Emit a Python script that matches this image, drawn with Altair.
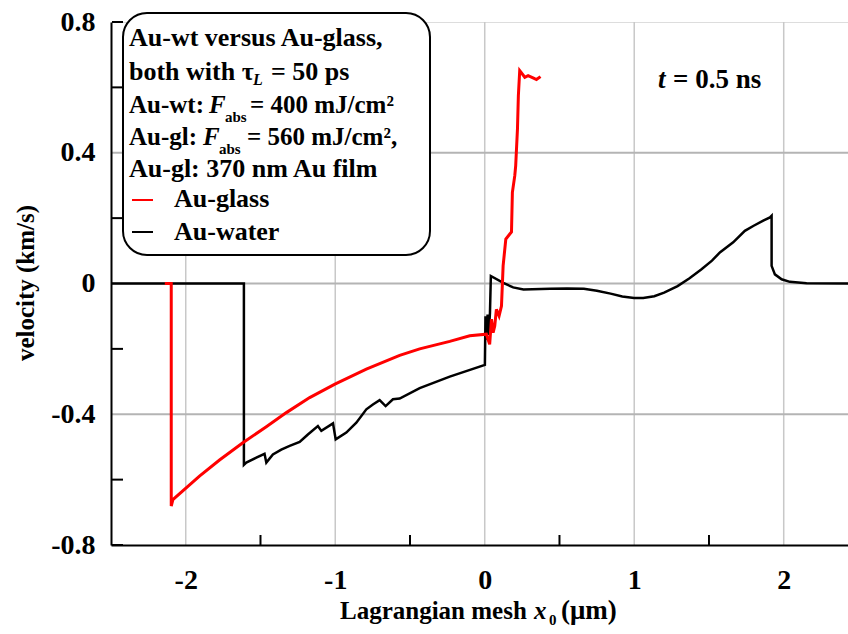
import altair as alt
import pandas as pd

# Velocity profiles at t = 0.5 ns versus Lagrangian coordinate x0 (um)
glass_x = [-2.14, -2.097, -2.097, -2.086, -1.908, -1.774, -1.618, -1.461, -1.327,
           -1.171, -1.002, -0.792, -0.569, -0.435, -0.234, -0.10, 0.011, 0.033,
           0.045, 0.056, 0.067, 0.078, 0.096, 0.112, 0.123, 0.141, 0.179, 0.185,
           0.201, 0.207, 0.219, 0.225, 0.234, 0.268, 0.290, 0.323, 0.346, 0.373]
glass_v = [0.0, 0.0, -0.681, -0.661, -0.589, -0.540, -0.487, -0.438, -0.395,
           -0.349, -0.308, -0.262, -0.220, -0.200, -0.177, -0.160, -0.155, -0.186,
           -0.109, -0.150, -0.130, -0.079, -0.099, -0.069, 0.054, 0.136, 0.158, 0.279,
           0.330, 0.360, 0.473, 0.575, 0.651, 0.631, 0.636, 0.629, 0.624, 0.633]

water_x = [-2.5, -1.611, -1.611, -1.595, -1.528, -1.473, -1.461, -1.417, -1.361,
           -1.305, -1.238, -1.183, -1.116, -1.093, -1.015, -0.997, -0.926, -0.859,
           -0.792, -0.748, -0.703, -0.663, -0.614, -0.569, -0.435, -0.234, 0.001,
           0.005, 0.013, 0.019, 0.026, 0.035, 0.041, 0.124, 0.19, 0.259, 0.438, 0.55,
           0.663, 0.75, 0.842, 0.92, 0.999, 1.06, 1.134, 1.20, 1.290, 1.37, 1.448,
           1.52, 1.573, 1.662, 1.740, 1.796, 1.863, 1.908, 1.919, 1.919, 1.919,
           1.941, 1.986, 2.041, 2.153, 2.5]
water_v = [0.0, 0.0, -0.555, -0.548, -0.533, -0.521, -0.548, -0.523, -0.508,
           -0.497, -0.485, -0.462, -0.436, -0.451, -0.428, -0.477, -0.456, -0.426,
           -0.385, -0.370, -0.357, -0.375, -0.354, -0.352, -0.320, -0.285, -0.249,
           -0.100, -0.172, -0.095, -0.157, -0.090, 0.023, 0.002, -0.012, -0.018,
           -0.016, -0.015, -0.016, -0.022, -0.031, -0.040, -0.044, -0.044, -0.039,
           -0.028, -0.008, 0.016, 0.043, 0.070, 0.095, 0.126, 0.161, 0.176, 0.192,
           0.202, 0.207, 0.176, 0.054, 0.028, 0.013, 0.005, 0.001, 0.0]

x_ticks = [-2, -1, 0, 1, 2]
x_minor = [-1.5, -0.5, 0.5, 1.5]
y_ticks = [-0.8, -0.4, 0, 0.4, 0.8]
y_minor = [-0.6, -0.2, 0.2, 0.6, 0.8, -0.8]
x_grid = [-2, -1, 0, 1, 2]
y_grid = [-0.4, 0, 0.4]
x_range = [-2.5, 2.43]
y_range = [-0.8, 0.8]

W, H = 737, 523          # plot area
PX, PY = 111, 22         # plot origin inside the page
FONT = "Liberation Serif"
GRID = "#c8c8c8"

xs = alt.Scale(domain=x_range, nice=False, zero=False)
ys = alt.Scale(domain=y_range, nice=False, zero=False)

rows = []
for i, (x, v) in enumerate(zip(water_x, water_v)):
    rows.append({"x": x, "v": v, "series": "Au-water", "i": i})
for i, (x, v) in enumerate(zip(glass_x, glass_v)):
    rows.append({"x": x, "v": v, "series": "Au-glass", "i": i})
df = pd.DataFrame(rows)

# light grid at the major values
grid_x = alt.Chart(pd.DataFrame({"gx": x_grid})).mark_rule(
    color=GRID, strokeWidth=1.5).encode(x=alt.X("gx:Q", scale=xs))
grid_y = alt.Chart(pd.DataFrame({"gy": y_grid})).mark_rule(
    color="#b4b4b4", strokeWidth=2).encode(
    y=alt.Y("gy:Q", scale=ys), x=alt.value(1), x2=alt.value(W))

axes = alt.Chart(df).mark_line(opacity=0).encode(
    x=alt.X("x:Q", scale=xs, title=None,
            axis=alt.Axis(values=x_ticks, labelExpr="'' + datum.value",
                          labelFont=FONT, labelFontSize=28, labelFontWeight="bold",
                          labelColor="black", labelPadding=21, ticks=False,
                          grid=False, domainColor="black", domainWidth=2,
                          zindex=1)),
    y=alt.Y("v:Q", scale=ys, title=None,
            axis=alt.Axis(values=y_ticks, labelExpr="'' + datum.value",
                          labelFont=FONT, labelFontSize=28, labelFontWeight="bold",
                          labelColor="black", labelPadding=16, ticks=False,
                          grid=False, domainColor="black", domainWidth=2,
                          zindex=1)),
)

tick_x = alt.Chart(pd.DataFrame({"tx": x_minor})).mark_rule(
    color="black", strokeWidth=2).encode(
    x=alt.X("tx:Q", scale=xs), y=alt.value(H), y2=alt.value(H - 10))
tick_y = alt.Chart(pd.DataFrame({"ty": y_minor})).mark_rule(
    color="black", strokeWidth=2).encode(
    y=alt.Y("ty:Q", scale=ys), x=alt.value(1), x2=alt.value(12))

water = alt.Chart(df[df.series == "Au-water"]).mark_line(
    color="black", strokeWidth=2.5, clip=True).encode(
    x=alt.X("x:Q", scale=xs), y=alt.Y("v:Q", scale=ys), order="i:Q")
glass = alt.Chart(df[df.series == "Au-glass"]).mark_line(
    color="#ff0000", strokeWidth=3, clip=True).encode(
    x=alt.X("x:Q", scale=xs), y=alt.Y("v:Q", scale=ys), order="i:Q")

one = pd.DataFrame({"a": [0]})


def txt(s, x, y, size=26, style="normal", align="left", angle=0):
    return alt.Chart(one).mark_text(
        text=s, font=FONT, fontSize=size, fontWeight="bold", fontStyle=style,
        align=align, baseline="alphabetic", angle=angle, color="black").encode(
        x=alt.value(x - PX), y=alt.value(y - PY))


box = alt.Chart(one).mark_rect(
    fill="white", stroke="black", strokeWidth=2, cornerRadius=24).encode(
    x=alt.value(123 - PX), x2=alt.value(430 - PX),
    y=alt.value(13 - PY), y2=alt.value(255 - PY))

key_red = alt.Chart(one).mark_rule(color="#ff0000", strokeWidth=2).encode(
    x=alt.value(132 - PX), x2=alt.value(153 - PX), y=alt.value(200 - PY))
key_black = alt.Chart(one).mark_rule(color="black", strokeWidth=2).encode(
    x=alt.value(132 - PX), x2=alt.value(153 - PX), y=alt.value(232 - PY))

texts = [
    txt("Au-wt versus Au-glass,", 129, 46),
    txt("both with \u03c4", 129, 80),
    txt("L", 253, 85, size=16, style="italic"),
    txt("= 50 ps", 271, 80),
    txt("Au-wt:", 129, 113, size=25),
    txt("F", 209, 113, size=25, style="italic"),
    txt("abs", 225, 122, size=15),
    txt("= 400 mJ/cm\u00b2", 250, 113, size=25),
    txt("Au-gl:", 129, 145, size=25),
    txt("F", 203, 145, size=25, style="italic"),
    txt("abs", 219, 154, size=15),
    txt("= 560 mJ/cm\u00b2,", 247, 145, size=25),
    txt("Au-gl: 370 nm Au film", 129, 177),
    txt("Au-glass", 174, 207),
    txt("Au-water", 174, 240),
    txt("t", 658, 88, size=27, style="italic"),
    txt("= 0.5 ns", 673, 88, size=27),
    txt("Lagrangian mesh", 340, 619, size=25),
    txt("x", 534, 619, size=25, style="italic"),
    txt("0", 549, 625, size=15),
    txt("(\u03bcm)", 561, 619, size=27),
    txt("velocity (km/s)", 34, 283, size=25, align="center", angle=270),
]

chart = alt.layer(
    grid_x, grid_y, axes, water, glass, tick_x, tick_y, box, key_red, key_black, *texts
).properties(
    width=W, height=H,
    autosize=alt.AutoSizeParams(type="none"),
    padding={"left": PX, "top": PY, "right": 0, "bottom": 634 - PY - H},
).configure_view(stroke=None).configure(background="white")

chart.save("out.html", embed_options={"renderer": "svg", "actions": False})
